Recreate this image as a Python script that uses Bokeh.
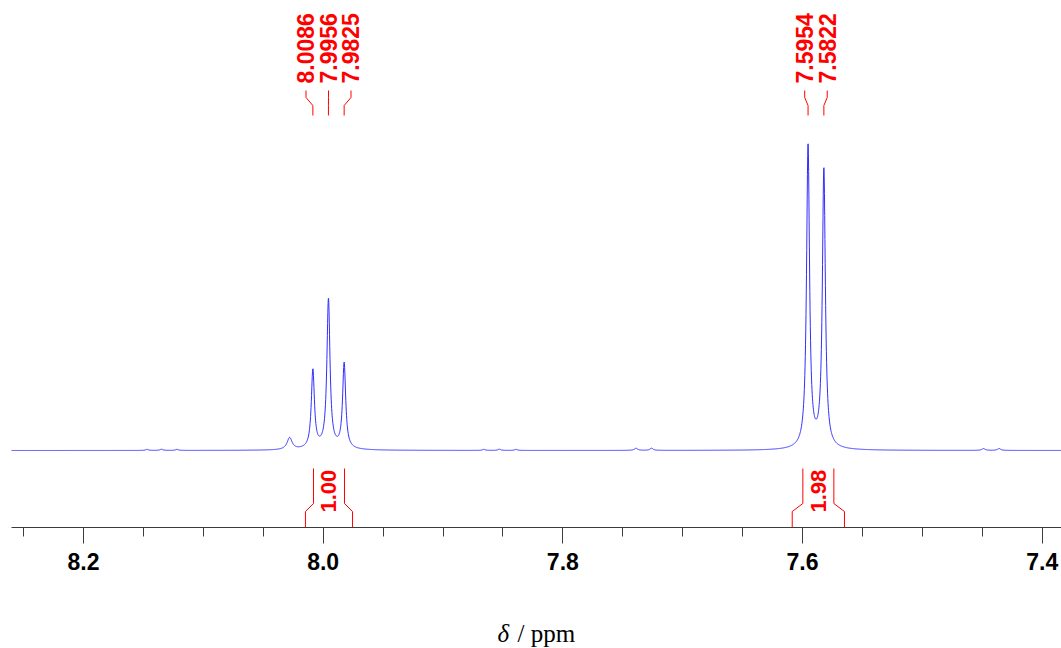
import numpy as np
from bokeh.plotting import figure
from bokeh.layouts import column
from bokeh.models import FixedTicker, PrintfTickFormatter, Range1d
from bokeh.embed import file_html
from bokeh.resources import INLINE
from bokeh.core.properties import value

# ---------------- data ----------------
# peak table: position (ppm), height (tallest = ~100), half width at half height (ppm)
peak_ppm = [7.5954, 7.5822, 7.9956, 8.0086, 7.9825, 8.0280,
            8.1470, 8.1350, 8.1220, 7.8660, 7.8530, 7.8390,
            7.7390, 7.7260, 7.4490, 7.4360, 7.5890, 7.9970]
peak_height = [99.0, 91.1, 48.5, 25.6, 27.9, 3.9,
               0.35, 0.4, 0.35, 0.35, 0.4, 0.35,
               0.7, 0.7, 0.6, 0.6, 0.9, 0.8]
peak_hwhm = [0.00150, 0.00150, 0.00155, 0.00155, 0.00155, 0.0025,
             0.0013, 0.0013, 0.0013, 0.0013, 0.0013, 0.0013,
             0.0016, 0.0016, 0.0016, 0.0016, 0.012, 0.012]

# peak picking labels (grouped as drawn)
label_groups = [[8.0086, 7.9956, 7.9825], [7.5954, 7.5822]]

# integrals
integral_from = [8.0148, 7.6086]
integral_to = [7.9755, 7.5650]
integral_value = ["1.00", "1.98"]

# axis ticks
major_ticks = [8.2, 8.0, 7.8, 7.6, 7.4]
minor_ticks = [8.25, 8.15, 8.10, 8.05, 7.95, 7.90, 7.85, 7.75, 7.70, 7.65, 7.55, 7.50, 7.45]

# ---------------- layout constants ----------------
PX_PER_PPM = 1198.4          # horizontal scale
PX_PER_UNIT = 3.05           # vertical scale
BASE_SY = 450                # baseline (page px)
AXIS_SY = 527                # axis line (page px)
FRAME_LEFT = 11
W, H_TOP, H_BOT = 1061, 600, 48
X_LEFT = 8.2 + (83 - FRAME_LEFT) / PX_PER_PPM
X_RIGHT = 8.2 - (W - 83) / PX_PER_PPM


def y_at(sy):
    """page-pixel row -> data value"""
    return (BASE_SY - sy) / PX_PER_UNIT


def dppm(px):
    return px / PX_PER_PPM


def x_at(sx):
    return 8.2 - (sx - 83) / PX_PER_PPM


xr = Range1d(X_LEFT, X_RIGHT)
p = figure(width=W, height=H_TOP, output_backend="svg", toolbar_location=None,
           x_range=xr, y_range=Range1d(y_at(AXIS_SY), y_at(0)),
           y_axis_location=None, min_border_left=FRAME_LEFT, min_border_right=0,
           min_border_top=0, min_border_bottom=H_TOP - AXIS_SY)
p.outline_line_color = None
p.xgrid.visible = False
p.ygrid.visible = False
p.background_fill_color = "white"
p.border_fill_color = "white"

# ---------------- spectrum ----------------
ppm = np.arange(X_RIGHT - 0.005, X_LEFT + 0.005, 0.0002)
inten = np.zeros_like(ppm)
for c, h, g in zip(peak_ppm, peak_height, peak_hwhm):
    inten += h / (1.0 + ((ppm - c) / g) ** 2)
p.line(ppm, inten, line_color="#2f2fff", line_width=1)

# ---------------- peak labels ----------------
RED = "#ff0000"
FONT = value("Liberation Sans")
spacing = dppm(22.5)
lx, ly, lt = [], [], []
cx, cy = [], []
for grp in label_groups:
    mean = sum(grp) / len(grp)
    n = len(grp)
    for i, pk in enumerate(grp):
        x = mean + ((n - 1) / 2 - i) * spacing
        lx.append(x)
        ly.append(y_at(83))
        lt.append(f"{pk:.4f}")
        cx.append([x, x, pk, pk])
        cy.append([y_at(90), y_at(97), y_at(105), y_at(115)])
p.multi_line(cx, cy, line_color=RED, line_width=1)
p.text(lx, ly, text=lt, angle=np.pi / 2, text_align="left", text_baseline="middle",
       text_font=FONT, text_font_style="bold", text_font_size="23px", text_color=RED)

# ---------------- integrals ----------------
ix, iy, it = [], [], []
bx, by = [], []
for a, b, v in zip(integral_from, integral_to, integral_value):
    mid = (a + b) / 2
    ia, ib = mid + dppm(15.5), mid - dppm(15.5)
    for outer, inner in ((a, ia), (b, ib)):
        bx.append([outer, outer, inner, inner])
        by.append([y_at(AXIS_SY), y_at(511), y_at(503), y_at(468)])
    ix.append(mid)
    iy.append(y_at(512))
    it.append(v)
p.multi_line(bx, by, line_color=RED, line_width=1)
p.text(ix, iy, text=it, angle=np.pi / 2, text_align="left", text_baseline="middle",
       text_font=FONT, text_font_style="bold", text_font_size="22px", text_color=RED)

# ---------------- axis ----------------
ax = p.xaxis[0]
ax.ticker = FixedTicker(ticks=major_ticks, minor_ticks=minor_ticks)
ax.formatter = PrintfTickFormatter(format="%.1f")
ax.axis_line_color = "#3c3c3c"
ax.major_tick_line_color = "#3c3c3c"
ax.minor_tick_line_color = "#3c3c3c"
ax.major_tick_out = 16
ax.major_tick_in = 0
ax.minor_tick_out = 9
ax.minor_tick_in = 0
ax.major_label_standoff = 9
ax.major_label_text_font = "Liberation Sans"
ax.major_label_text_font_style = "bold"
ax.major_label_text_font_size = "23px"
ax.major_label_text_color = "black"

# ---------------- axis title "δ / ppm" (δ italic) in a strip below ----------------
t = figure(width=W, height=H_BOT, output_backend="svg", toolbar_location=None,
           x_range=xr, y_range=Range1d(0, H_BOT), x_axis_location=None, y_axis_location=None,
           min_border_left=FRAME_LEFT, min_border_right=0, min_border_top=0, min_border_bottom=0)
t.outline_line_color = None
t.xgrid.visible = False
t.ygrid.visible = False
base = H_TOP + H_BOT - 633   # baseline of the title, px from the strip bottom
t.text([x_at(497)], [base], text=["δ"], text_font=value("Liberation Serif"),
       text_font_style="italic", text_font_size="25px", text_color="black",
       text_align="left", text_baseline="alphabetic")
t.text([x_at(517)], [base], text=["/ ppm"], text_font=value("Liberation Serif"),
       text_font_size="25px", text_color="black",
       text_align="left", text_baseline="alphabetic")

layout = column(p, t, spacing=0)
open("out.html", "w").write(file_html(layout, INLINE))
